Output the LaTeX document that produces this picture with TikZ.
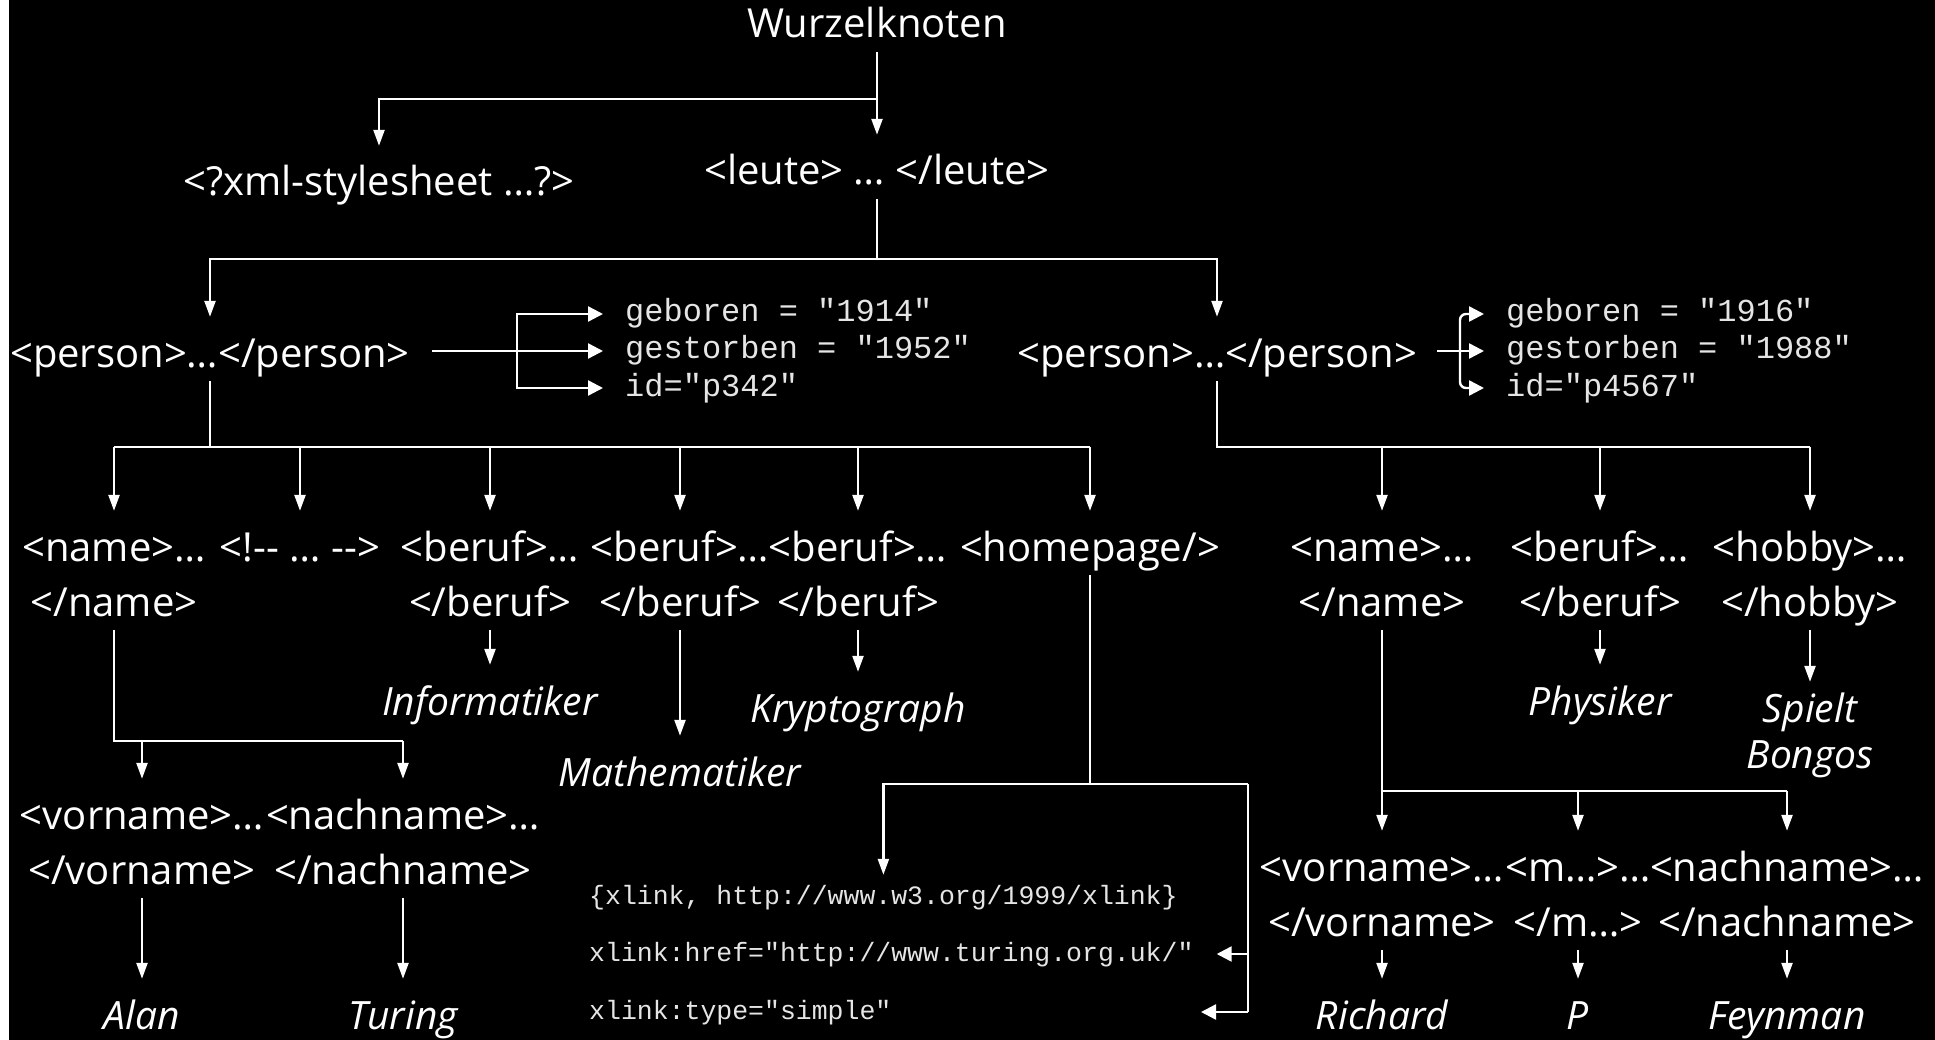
\documentclass[tikz,border=0pt]{standalone}
\usepackage{fontspec}
\setmainfont{Open Sans}
\newfontfamily\monof{Liberation Mono}
\usetikzlibrary{arrows.meta}
\begin{document}
\begin{tikzpicture}[x=1pt,y=-1pt,
  lbl/.style={text=white, inner sep=0pt, text height=50pt, text depth=14pt, anchor=base, yshift=-4pt, font=\fontsize{40}{46}\selectfont},
  leaf/.style={lbl, font=\fontsize{39}{46}\selectfont\itshape},
  lowleaf/.style={leaf, text depth=4pt},
  attr/.style={text=white!90!black, inner xsep=22pt, inner ysep=0pt, anchor=west, text height=22pt, text depth=6pt, font=\monof\fontsize{32}{38}\selectfont},
  xl/.style={text=white!90!black, inner xsep=23pt, inner ysep=9pt, anchor=west, text height=20pt, text depth=6pt, font=\monof\fontsize{26.5}{32}\selectfont},
  ln/.style={draw=white, line width=2.4pt},
  arr/.style={ln, -{Triangle[length=16pt,width=11pt]}},
  arrb/.style={ln, -{Triangle[length=15pt,width=15pt]}}]
\useasboundingbox (0,0) rectangle (1935,1040);
\fill[black] (0,0) rectangle (1935,1040);
\fill[white] (0,0) rectangle (9,1040);

% nodes
\node[lbl] (root) at (877,34) {Wurzelknoten};
\node[lbl] (xml) at (379,192) {<?xml-stylesheet …?>};
\node[lbl] (leute) at (877,181) {<leute> … </leute>};
\node[lbl] (p1) at (210,363) {<person>…</person>};
\node[lbl] (p2) at (1217,363) {<person>…</person>};

\node[attr] (a1g) at (603,314) {geboren = "1914"};
\node[attr] (a1s) at (603,351) {gestorben = "1952"};
\node[attr] (a1i) at (603,388) {id="p342"};
\node[attr] (a2g) at (1484,314) {geboren = "1916"};
\node[attr] (a2s) at (1484,351) {gestorben = "1988"};
\node[attr] (a2i) at (1484,388) {id="p4567"};

\node[lbl] (n1a) at (114,557) {<name>…};
\node[lbl] (n1b) at (114,612) {</name>};
\node[lbl] (c1) at (300,557) {<!-{}- … -{}->};
\node[lbl] (b1a) at (490,557) {<beruf>…};
\node[lbl] (b1b) at (490,612) {</beruf>};
\node[lbl] (b2a) at (680,557) {<beruf>…};
\node[lbl] (b2b) at (680,612) {</beruf>};
\node[lbl] (b3a) at (858,557) {<beruf>…};
\node[lbl] (b3b) at (858,612) {</beruf>};
\node[lbl] (hp) at (1090,557) {<homepage/>};

\node[lbl] (m1a) at (1382,557) {<name>…};
\node[lbl] (m1b) at (1382,612) {</name>};
\node[lbl] (pb2a) at (1600,557) {<beruf>…};
\node[lbl] (pb2b) at (1600,612) {</beruf>};
\node[lbl] (hb1a) at (1810,557) {<hobby>…};
\node[lbl] (hb1b) at (1810,612) {</hobby>};

\node[leaf] (inf) at (490,711) {Informatiker};
\node[leaf] (math) at (680,782) {Mathematiker};
\node[leaf] (kry) at (858,718) {Kryptograph};
\node[leaf] (phys) at (1600,711) {Physiker};
\node[leaf] (spielt) at (1810,718) {Spielt};
\node[leaf] (bongos) at (1810,764) {Bongos};

\node[lbl] (vo1a) at (142,825) {<vorname>…};
\node[lbl] (vo1b) at (142,880) {</vorname>};
\node[lbl] (na1a) at (403,825) {<nachname>…};
\node[lbl] (na1b) at (403,880) {</nachname>};
\node[lowleaf] (alan) at (142,1025) {Alan};
\node[lowleaf] (turing) at (403,1025) {Turing};

\node[xl] (x1) at (566,897) {\{xlink, http://www.w3.org/1999/xlink\}};
\node[xl] (x2) at (566,954) {xlink:href="http://www.turing.org.uk/"};
\node[xl] (x3) at (566,1012) {xlink:type="simple"};

\node[lbl] (vo2a) at (1382,877) {<vorname>…};
\node[lbl] (vo2b) at (1382,932) {</vorname>};
\node[lbl] (mm2a) at (1578,877) {<m…>…};
\node[lbl] (mm2b) at (1578,932) {</m…>};
\node[lbl] (nn2a) at (1787,877) {<nachname>…};
\node[lbl] (nn2b) at (1787,932) {</nachname>};
\node[lowleaf] (richard) at (1382,1025) {Richard};
\node[lowleaf] (pp) at (1578,1025) {P};
\node[lowleaf] (feyn) at (1787,1025) {Feynman};

% connectors
\draw[arr] (root.south) -- (leute.north);
\coordinate (j0) at (877,99);
\draw[arr] (j0) -| (xml.north);
\coordinate (j1) at (877,259);
\draw[ln] (leute.south) -- (j1);
\draw[arr] (j1) -| (p1.north);
\draw[arr] (j1) -| (p2.north);

\coordinate (k1) at (517,351);
\draw[ln, shorten <=22pt] (p1.east |- k1) -- (k1);
\draw[arrb] (k1) |- (a1g.west);
\draw[arrb] (k1) -- (a1s.west);
\draw[arrb] (k1) |- (a1i.west);
\coordinate (k2) at (1460,351);
\draw[ln, shorten <=20pt] (p2.east |- k2) -- (k2);
\draw[arrb, rounded corners=6pt] (k2) |- (a2g.west);
\draw[arrb] (k2) -- (a2s.west);
\draw[arrb, rounded corners=6pt] (k2) |- (a2i.west);

\coordinate (j2) at (210,447);
\draw[ln] (p1.south) -- (j2);
\draw[ln] (n1a |- j2) -- (hp |- j2);
\foreach \n in {n1a,c1,b1a,b2a,b3a,hp} \draw[arr] (\n |- j2) -- (\n.north);
\draw[arr] (b1b.south) -- (inf.north);
\draw[arr] (b2b.south) -- (math.north);
\draw[arr] (b3b.south) -- (kry.north);

\coordinate (j4) at (114,741);
\draw[ln] (n1b.south) -- (j4) -- (na1a |- j4);
\draw[arr] (vo1a |- j4) -- (vo1a.north);
\draw[arr] (na1a |- j4) -- (na1a.north);
\draw[arr] (vo1b.south) -- (alan.north);
\draw[arr] (na1b.south) -- (turing.north);

\coordinate (jh) at (1248,784);
\draw[ln] (hp.south) -- (hp |- jh);
\draw[arr] (jh) -- (x1.north |- jh) -- (x1.north);
\coordinate (jb) at (1248,1012);
\draw[ln] (jh) -- (jb);
\draw[arrb] (x2.east -| jh) -- (x2.east);
\coordinate (t3) at (1201,1012);
\draw[arrb] (jb) -- (t3);

\coordinate (j3) at (1217,447);
\draw[ln] (p2.south) -- (j3) -- (hb1a |- j3);
\foreach \n in {m1a,pb2a,hb1a} \draw[arr] (\n |- j3) -- (\n.north);
\draw[arr] (pb2b.south) -- (phys.north);
\draw[arr, shorten >=-10pt] (hb1b.south) -- (spielt.north);

\coordinate (j5) at (1382,791);
\draw[ln] (m1b.south) -- (j5) -- (nn2a |- j5);
\foreach \n in {vo2a,mm2a,nn2a} \draw[arr] (\n |- j5) -- (\n.north);
\draw[arr] (vo2b.south) -- (richard.north);
\draw[arr] (mm2b.south) -- (pp.north);
\draw[arr] (nn2b.south) -- (feyn.north);
\end{tikzpicture}
\end{document}
